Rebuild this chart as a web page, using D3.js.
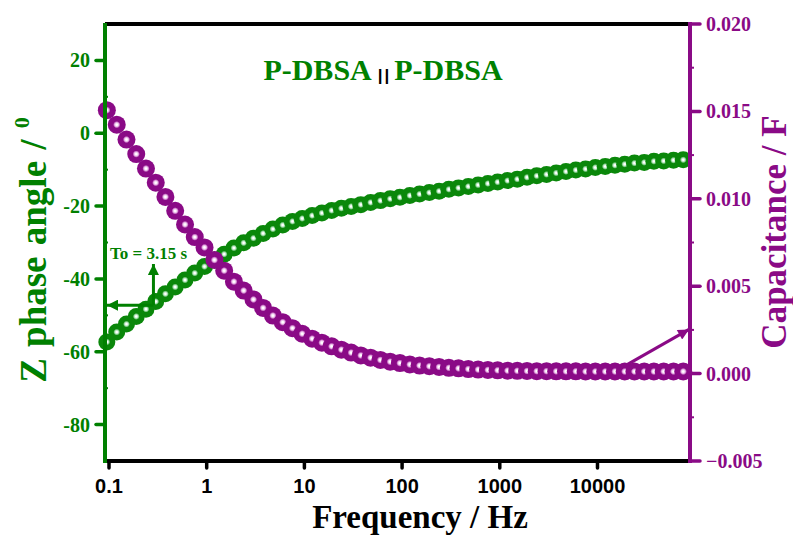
<!DOCTYPE html>
<html>
<head>
<meta charset="utf-8">
<script src="https://cdn.jsdelivr.net/npm/d3@7/dist/d3.min.js"></script>
<style>
  html, body { margin: 0; padding: 0; background: #fff; }
  svg { display: block; }
</style>
</head>
<body>
<svg id="chart" width="793" height="536"></svg>
<script>
// Frequency sweep (Hz), 10 points per decade
const frequency = [
  0.095, 0.120, 0.151, 0.190, 0.239, 0.301, 0.378, 0.476, 0.600, 0.755,
  0.95, 1.20, 1.51, 1.90, 2.39, 3.01, 3.78, 4.76, 6.00, 7.55,
  9.5, 12.0, 15.1, 19.0, 23.9, 30.1, 37.8, 47.6, 60.0, 75.5,
  95, 120, 151, 190, 239, 301, 378, 476, 600, 755,
  950, 1200, 1510, 1900, 2390, 3010, 3780, 4760, 6000, 7550,
  9500, 12000, 15100, 19000, 23900, 30100, 37800, 47600, 60000, 75500
];

// Impedance phase angle (degrees)
const phaseAngle = [
  -57.3, -54.6, -52.4, -50.3, -48.3, -46.2, -44.1, -42.2, -40.3, -38.4,
  -36.6, -34.8, -33.2, -31.5, -30.1, -28.8, -27.5, -26.3, -25.2, -24.2,
  -23.4, -22.6, -21.9, -21.2, -20.6, -20.1, -19.6, -19.0, -18.5, -18.0,
  -17.6, -17.1, -16.7, -16.3, -15.9, -15.4, -15.0, -14.6, -14.2, -13.8,
  -13.4, -13.0, -12.6, -12.1, -11.7, -11.3, -10.9, -10.5, -10.1, -9.8,
  -9.4, -9.1, -8.8, -8.5, -8.2, -8.0, -7.7, -7.6, -7.4, -7.3
];

// Capacitance (F)
const capacitance = [
  0.01507, 0.01424, 0.01339, 0.01256, 0.01173, 0.01092, 0.01011, 0.00931, 0.00853, 0.00781,
  0.00722, 0.00650, 0.00589, 0.00526, 0.00475, 0.00424, 0.00376, 0.00332, 0.00294, 0.00260,
  0.00228, 0.00200, 0.00177, 0.00156, 0.00137, 0.00120, 0.00104, 0.00091, 0.00078, 0.00068,
  0.00060, 0.00052, 0.00046, 0.00042, 0.00038, 0.00033, 0.00030, 0.00026, 0.00023, 0.00021,
  0.00019, 0.00017, 0.00016, 0.00015, 0.00014, 0.00014, 0.00013, 0.00013, 0.00013, 0.00012,
  0.00012, 0.00012, 0.00012, 0.00012, 0.00012, 0.00012, 0.00012, 0.00012, 0.00012, 0.00012
];

const freqTicks = [0.1, 1, 10, 100, 1000, 10000];
const freqTickLabels = ["0.1", "1", "10", "100", "1000", "10000"];
const phaseTicks = [20, 0, -20, -40, -60, -80];
const phaseMinorTicks = [10, -10, -30, -50, -70];
const capTicks = [0.020, 0.015, 0.010, 0.005, 0.000, -0.005];
const capMinorTicks = [0.0175, 0.0125, 0.0075, 0.0025, -0.0025];

// Relaxation time annotation (point on the phase curve) and capacitance pointer
const relaxFreq = 0.285, relaxPhase = -47.2, relaxTipPhase = -35.9;
const capArrowFrom = [18500, 0.0004], capArrowTo = [88500, 0.00253];

const GREEN = "#008000";
const PURPLE = "#8a0a86";
const SERIF = "'Liberation Serif', 'Times New Roman', serif";
const SANS = "'Liberation Sans', Arial, sans-serif";

const svg = d3.select("#chart");
const plotL = 105, plotR = 690, plotT = 24, plotB = 461;

const x = d3.scaleLog().domain([0.091, 88500]).range([plotL, plotR]);
const yL = d3.scaleLinear().domain([-90, 30]).range([plotB, plotT]);
const yR = d3.scaleLinear().domain([-0.005, 0.020]).range([plotB, plotT]);

// Glossy sphere fills for the markers
const defs = svg.append("defs");
function sphere(id, main, tint) {
  const g = defs.append("radialGradient").attr("id", id)
    .attr("cx", "50%").attr("cy", "50%").attr("r", "50%");
  g.append("stop").attr("offset", "0%").attr("stop-color", "#ffffff");
  g.append("stop").attr("offset", "9%").attr("stop-color", "#ffffff");
  g.append("stop").attr("offset", "24%").attr("stop-color", tint);
  g.append("stop").attr("offset", "40%").attr("stop-color", main);
  g.append("stop").attr("offset", "100%").attr("stop-color", main);
}
sphere("gGreen", "#0a870a", "#a6deb0");
sphere("gPurple", "#8a0a86", "#e6b0e4");

const arrowHead = (id, color) => {
  defs.append("marker").attr("id", id)
    .attr("viewBox", "0 0 10 10").attr("refX", 10).attr("refY", 5)
    .attr("markerUnits", "userSpaceOnUse")
    .attr("markerWidth", 17).attr("markerHeight", 11)
    .attr("orient", "auto")
    .append("path").attr("d", "M0,0 L10,5 L0,10 Z").attr("fill", color);
};
arrowHead("headGreen", GREEN);
arrowHead("headPurple", PURPLE);

// Phase angle series
svg.append("g").selectAll("circle").data(frequency)
  .join("circle")
  .attr("cx", d => x(d))
  .attr("cy", (d, i) => yL(phaseAngle[i]))
  .attr("r", 8.5)
  .attr("fill", "url(#gGreen)");

// Capacitance series
svg.append("g").selectAll("circle").data(frequency)
  .join("circle")
  .attr("cx", d => x(d))
  .attr("cy", (d, i) => yR(capacitance[i]))
  .attr("r", 9)
  .attr("fill", "url(#gPurple)");

// Relaxation-time arrows
const ax = x(relaxFreq), ay = yL(relaxPhase);
svg.append("line")
  .attr("x1", ax).attr("y1", ay).attr("x2", ax).attr("y2", yL(relaxTipPhase))
  .attr("stroke", GREEN).attr("stroke-width", 3).attr("marker-end", "url(#headGreen)");
svg.append("line")
  .attr("x1", ax).attr("y1", ay).attr("x2", plotL + 2).attr("y2", ay)
  .attr("stroke", GREEN).attr("stroke-width", 3).attr("marker-end", "url(#headGreen)");
svg.append("text")
  .attr("x", 110).attr("y", 258.5)
  .attr("font-family", SERIF).attr("font-weight", "bold").attr("font-size", 17)
  .attr("fill", GREEN).text("To = 3.15 s");

// Capacitance pointer arrow
svg.append("line")
  .attr("x1", x(capArrowFrom[0])).attr("y1", yR(capArrowFrom[1]))
  .attr("x2", x(capArrowTo[0]) - 1).attr("y2", yR(capArrowTo[1]))
  .attr("stroke", PURPLE).attr("stroke-width", 3).attr("marker-end", "url(#headPurple)");

// Title
const title = svg.append("text")
  .attr("x", 383).attr("y", 79.5).attr("text-anchor", "middle")
  .attr("font-family", SERIF).attr("font-weight", "bold").attr("font-size", 30);
title.append("tspan").attr("fill", GREEN).text("P-DBSA");
title.append("tspan").attr("fill", "#000").attr("font-family", SANS).attr("font-size", 17)
  .attr("dx", 6).attr("letter-spacing", 2).attr("dy", 1).text("||");
title.append("tspan").attr("fill", GREEN).attr("dx", 3).attr("dy", -1).text("P-DBSA");

// Frame: top and bottom black lines
svg.append("line").attr("x1", plotL).attr("x2", plotR).attr("y1", plotT).attr("y2", plotT)
  .attr("stroke", "#000").attr("stroke-width", 4);
svg.append("line").attr("x1", plotL).attr("x2", plotR).attr("y1", plotB).attr("y2", plotB)
  .attr("stroke", "#000").attr("stroke-width", 4);

// Bottom axis
const xAxis = svg.append("g");
xAxis.selectAll("line").data(freqTicks).join("line")
  .attr("x1", d => x(d)).attr("x2", d => x(d))
  .attr("y1", plotB).attr("y2", plotB + 7)
  .attr("stroke", "#000").attr("stroke-width", 3.5).attr("stroke-linecap", "round");
xAxis.selectAll("text").data(freqTicks).join("text")
  .attr("x", d => x(d)).attr("y", 492.5).attr("text-anchor", "middle")
  .attr("font-family", SANS).attr("font-weight", "bold").attr("font-size", 20)
  .attr("fill", "#000").text((d, i) => freqTickLabels[i]);
svg.append("text")
  .attr("x", 420).attr("y", 528).attr("text-anchor", "middle")
  .attr("font-family", SERIF).attr("font-weight", "bold").attr("font-size", 33)
  .attr("fill", "#000").text("Frequency / Hz");

// Left axis (phase angle)
const lAxis = svg.append("g");
lAxis.append("line").attr("x1", plotL).attr("x2", plotL).attr("y1", plotT - 1).attr("y2", plotB + 2)
  .attr("stroke", GREEN).attr("stroke-width", 4);
lAxis.selectAll(".maj").data(phaseTicks).join("line").attr("class", "maj")
  .attr("x1", plotL).attr("x2", plotL - 9)
  .attr("y1", d => yL(d)).attr("y2", d => yL(d))
  .attr("stroke", GREEN).attr("stroke-width", 3.5).attr("stroke-linecap", "round");
lAxis.selectAll(".min").data(phaseMinorTicks).join("line").attr("class", "min")
  .attr("x1", plotL).attr("x2", plotL + 3)
  .attr("y1", d => yL(d)).attr("y2", d => yL(d))
  .attr("stroke", GREEN).attr("stroke-width", 2);
lAxis.selectAll("text").data(phaseTicks).join("text")
  .attr("x", 90).attr("y", d => yL(d) + 7).attr("text-anchor", "end")
  .attr("font-family", SERIF).attr("font-weight", "bold").attr("font-size", 20)
  .attr("fill", GREEN).text(d => d);
const lTitle = svg.append("text")
  .attr("transform", "translate(46,250) rotate(-90)")
  .attr("text-anchor", "middle")
  .attr("font-family", SERIF).attr("font-weight", "bold").attr("font-size", 37)
  .attr("word-spacing", 2)
  .attr("fill", GREEN);
lTitle.append("tspan").text("Z phase angle / ");
lTitle.append("tspan").attr("font-size", 22).attr("dy", -17).text("0");

// Right axis (capacitance)
const rAxis = svg.append("g");
rAxis.append("line").attr("x1", plotR).attr("x2", plotR).attr("y1", plotT - 2).attr("y2", plotB + 2)
  .attr("stroke", PURPLE).attr("stroke-width", 4);
rAxis.selectAll(".maj").data(capTicks).join("line").attr("class", "maj")
  .attr("x1", plotR).attr("x2", plotR + 10)
  .attr("y1", d => yR(d)).attr("y2", d => yR(d))
  .attr("stroke", PURPLE).attr("stroke-width", 3.5).attr("stroke-linecap", "round");
rAxis.selectAll(".min").data(capMinorTicks).join("line").attr("class", "min")
  .attr("x1", plotR).attr("x2", plotR + 4)
  .attr("y1", d => yR(d)).attr("y2", d => yR(d))
  .attr("stroke", PURPLE).attr("stroke-width", 2);
rAxis.selectAll("text").data(capTicks).join("text")
  .attr("x", 706).attr("y", d => yR(d) + 7).attr("text-anchor", "start")
  .attr("font-family", SERIF).attr("font-weight", "bold").attr("font-size", 20)
  .attr("fill", PURPLE).text(d => d3.format(".3f")(d));
svg.append("text")
  .attr("transform", "translate(786,232) rotate(-90)")
  .attr("text-anchor", "middle")
  .attr("font-family", SERIF).attr("font-weight", "bold").attr("font-size", 35)
  .attr("fill", PURPLE).text("Capacitance / F");
</script>
</body>
</html>
